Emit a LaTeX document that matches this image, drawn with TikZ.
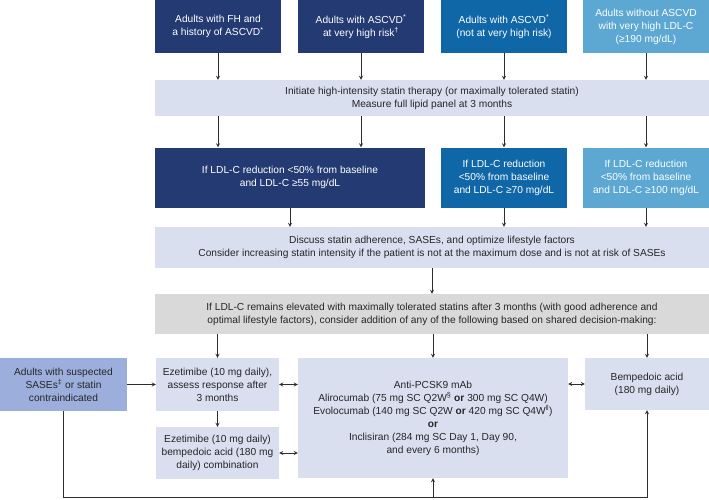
\documentclass[tikz,border=0pt]{standalone}
\usepackage{fontspec}
\setmainfont{Liberation Sans}
\usetikzlibrary{positioning,calc}
\definecolor{navy}{RGB}{35,59,114}
\definecolor{midblue}{RGB}{16,103,168}
\definecolor{skyblue}{RGB}{92,168,211}
\definecolor{lavender}{RGB}{218,223,240}
\definecolor{greybar}{RGB}{217,217,217}
\definecolor{sasblue}{RGB}{156,175,220}
\definecolor{arrowgrey}{RGB}{45,45,45}

\begin{document}
\begin{tikzpicture}[x=1pt,y=-1pt,>=stealth,
	box/.style={align=center,inner sep=1pt,font=\fontsize{10.2}{13}\selectfont},
	dark/.style={box,fill=navy,text=white},
	mid/.style={box,fill=midblue,text=white},
	sky/.style={box,fill=skyblue,text=white},
	pale/.style={box,fill=lavender,text=black!85},
	grey/.style={box,fill=greybar,text=black!85},
	sas/.style={box,fill=sasblue,text=black!85},
	arr/.style={->,line width=0.8pt,color=arrowgrey},
	dbl/.style={<->,line width=0.8pt,color=arrowgrey}]
	\useasboundingbox (0,0) rectangle (709,499);
	% patient groups
	\node[dark,minimum width=126,minimum height=53] (fh) at (218,26.5) {Adults with FH and\\a history of ASCVD\textsuperscript{*}};
	\node[dark,minimum width=126,minimum height=53] (vhr) at (361,26.5) {Adults with ASCVD\textsuperscript{*}\\at very high risk\textsuperscript{†}};
	\node[mid,minimum width=126,minimum height=53] (nvhr) at (504,26.5) {Adults with ASCVD\textsuperscript{*}\\(not at very high risk)};
	\node[sky,minimum width=126,minimum height=53] (hldl) at (646,26.5) {Adults without ASCVD\\with very high LDL-C\\(≥190 mg/dL)};
	% statin start
	\node[pale,minimum width=554,minimum height=36] (init) at (432,98) {Initiate high-intensity statin therapy (or maximally tolerated statin)\\Measure full lipid panel at 3 months};
	% thresholds
	\node[dark,minimum width=270,minimum height=60] (cut55) at (290,177.5) {If LDL-C reduction <50\% from baseline\\and LDL-C ≥55 mg/dL};
	\node[mid,minimum width=126,minimum height=60] (cut70) at (504,177.5) {If LDL-C reduction\\<50\% from baseline\\and LDL-C ≥70 mg/dL};
	\node[sky,minimum width=126,minimum height=60] (cut100) at (646,177.5) {If LDL-C reduction\\<50\% from baseline\\and LDL-C ≥100 mg/dL};
	% review
	\node[pale,minimum width=554,minimum height=41] (disc) at (432,247.5) {Discuss statin adherence, SASEs, and optimize lifestyle factors\\Consider increasing statin intensity if the patient is not at the maximum dose and is not at risk of SASEs};
	\node[grey,minimum width=554,minimum height=40] (elev) at (432,314) {If LDL-C remains elevated with maximally tolerated statins after 3 months (with good adherence and\\optimal lifestyle factors), consider addition of any of the following based on shared decision-making:};
	% add-on options
	\node[sas,minimum width=127,minimum height=53] (sases) at (63.5,384.5) {Adults with suspected\\SASEs\textsuperscript{‡} or statin\\contraindicated};
	\node[pale,minimum width=123,minimum height=53] (eze1) at (217.5,384.5) {Ezetimibe (10 mg daily),\\assess response after\\3 months};
	\node[pale,minimum width=123,minimum height=52] (eze2) at (217.5,453) {Ezetimibe (10 mg daily)\\bempedoic acid (180 mg\\daily) combination};
	\node[pale,minimum width=270,minimum height=120] (pcsk) at (433,418) {Anti-PCSK9 mAb\\Alirocumab (75 mg SC Q2W\textsuperscript{§} \textbf{or} 300 mg SC Q4W)\\Evolocumab (140 mg SC Q2W \textbf{or} 420 mg SC Q4W\textsuperscript{‖})\\\textbf{or}\\Inclisiran (284 mg SC Day 1, Day 90,\\and every 6 months)};
	\node[pale,minimum width=124,minimum height=52] (bemp) at (647,384) {Bempedoic acid\\(180 mg daily)};
	\coordinate (loop) at (63.5,497);
	% connectors
	\foreach \n in {fh,vhr,nvhr,hldl}
		\draw[arr] (\n.south) -- (\n.south |- init.north);
	\foreach \n in {fh,vhr}
		\draw[arr] (\n.south |- init.south) -- (\n.south |- cut55.north);
	\draw[arr] (nvhr.south |- init.south) -- (cut70.north);
	\draw[arr] (hldl.south |- init.south) -- (cut100.north);
	\foreach \n in {cut55,cut70,cut100}
		\draw[arr] (\n.south) -- (\n.south |- disc.north);
	\draw[arr] (disc.south) -- (elev.north);
	\foreach \n in {eze1,pcsk,bemp}
		\draw[arr] (\n.north |- elev.south) -- (\n.north);
	\draw[arr] (sases.east) -- (eze1.west);
	\draw[arr] (eze1.south) -- (eze2.north);
	\draw[dbl] (eze1.east) -- (eze1.east -| pcsk.west);
	\draw[dbl] (eze2.east) -- (eze2.east -| pcsk.west);
	\draw[dbl] (bemp.west -| pcsk.east) -- (bemp.west);
	\draw[arr] (sases.south) -- (loop) -- (bemp.south |- loop) -- (bemp.south);
	\draw[arr] (pcsk.south |- loop) -- (pcsk.south);
\end{tikzpicture}
\end{document}
